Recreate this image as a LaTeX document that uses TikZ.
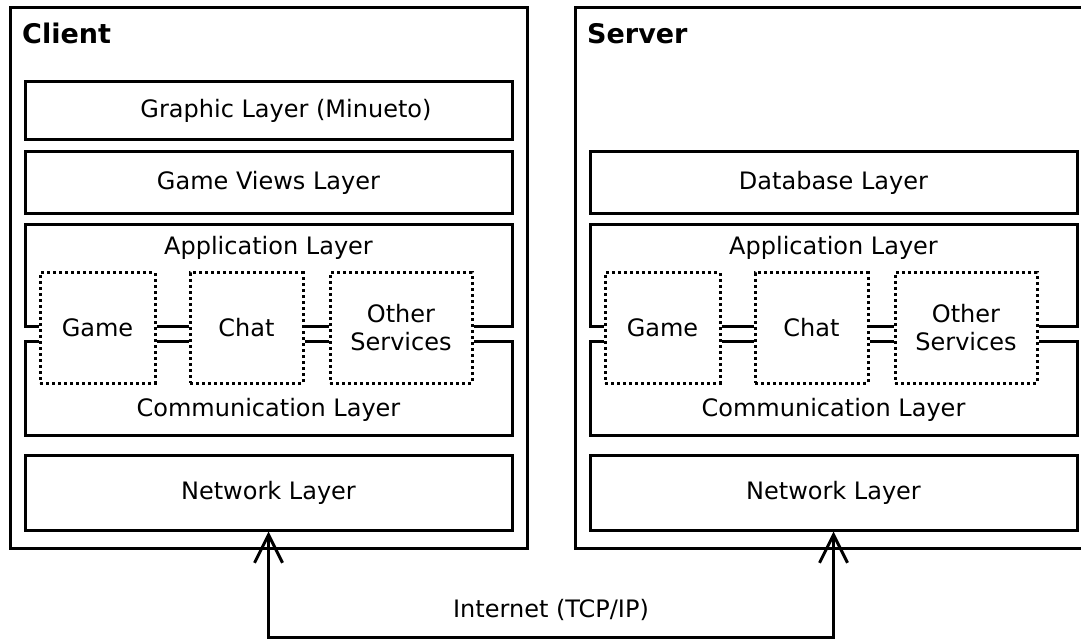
\documentclass[tikz,border=0pt]{standalone}
\usepackage{fontspec}
\setmainfont{DejaVu Sans}
\usetikzlibrary{arrows.meta}
\begin{document}
\begin{tikzpicture}[x=1pt,y=-1pt,
  every node/.style={font=\fontsize{24}{28}\selectfont, inner sep=0pt},
  outerbox/.style={draw, line width=3pt, rectangle},
  layerbox/.style={draw, line width=3pt, rectangle, minimum width=487pt},
  svcbox/.style={draw, line width=3pt, rectangle, dash pattern=on 3pt off 3pt, minimum height=110pt},
  outline/.style={line width=3pt},
  title/.style={font=\fontsize{27}{30}\selectfont\bfseries, anchor=base west},
  netarrow/.style={line width=3pt, {Straight Barb[length=28pt,width=28pt]}-{Straight Barb[length=28pt,width=28pt]}}
]
\useasboundingbox (0,0) rectangle (1081,644);

% ---------- Client ----------
\node[outerbox, minimum width=517pt, minimum height=540pt] (client) at (268.5,278) {};
\node[title] (clientT) at (22,44) {Client};
\node[layerbox, minimum height=58pt] (graphic) at (268.5,111) {};
\node (graphicT) at (286,111) {Graphic Layer (Minueto)};
\node[layerbox, minimum height=62pt] (views) at (268.5,183) {Game Views Layer};
\node[svcbox, minimum width=115pt] (cgame) at (97.5,328) {Game};
\node[svcbox, minimum width=113pt] (cchat) at (246.5,328) {Chat};
\node[svcbox, minimum width=142pt, align=center] (cother) at (401,328) {Other\\Services};
\node (capp) at (268.5,248) {Application Layer};
\node (ccom) at (268.5,410) {Communication Layer};
\node[layerbox, minimum height=75pt] (cnet) at (268.5,492.5) {Network Layer};

\draw[outline] (cgame.west |- 0,326) -- (25,326) -- (25,225) -- (512,225) -- (512,326) -- (cother.east |- 0,326);
\draw[outline] (cgame.west |- 0,341) -- (25,341) -- (25,435) -- (512,435) -- (512,341) -- (cother.east |- 0,341);
\draw[outline] (cgame.east |- 0,326) -- (cchat.west |- 0,326);
\draw[outline] (cgame.east |- 0,341) -- (cchat.west |- 0,341);
\draw[outline] (cchat.east |- 0,326) -- (cother.west |- 0,326);
\draw[outline] (cchat.east |- 0,341) -- (cother.west |- 0,341);

% ---------- Server ----------
\coordinate (sTR) at (1083,8);
\coordinate (sBR) at (1083,548);
\draw[outline] (sTR) -| (575,548) -- (sBR);
\node[title] (serverT) at (587,44) {Server};
\node[layerbox, minimum height=62pt] (db) at (833.5,183) {Database Layer};
\node[svcbox, minimum width=115pt] (sgame) at (662.5,328) {Game};
\node[svcbox, minimum width=113pt] (schat) at (811.5,328) {Chat};
\node[svcbox, minimum width=142pt, align=center] (sother) at (966,328) {Other\\Services};
\node (sapp) at (833.5,248) {Application Layer};
\node (scom) at (833.5,410) {Communication Layer};
\node[layerbox, minimum height=75pt] (snet) at (833.5,492.5) {Network Layer};

\draw[outline] (sgame.west |- 0,326) -- (590,326) -- (590,225) -- (1077,225) -- (1077,326) -- (sother.east |- 0,326);
\draw[outline] (sgame.west |- 0,341) -- (590,341) -- (590,435) -- (1077,435) -- (1077,341) -- (sother.east |- 0,341);
\draw[outline] (sgame.east |- 0,326) -- (schat.west |- 0,326);
\draw[outline] (sgame.east |- 0,341) -- (schat.west |- 0,341);
\draw[outline] (schat.east |- 0,326) -- (sother.west |- 0,326);
\draw[outline] (schat.east |- 0,341) -- (sother.west |- 0,341);

% ---------- Internet ----------
\draw[netarrow] (cnet.south) -- (cnet.south |- 0,637) -| (snet.south);
\node (inet) at (551,610) {Internet (TCP/IP)};
\end{tikzpicture}
\end{document}
